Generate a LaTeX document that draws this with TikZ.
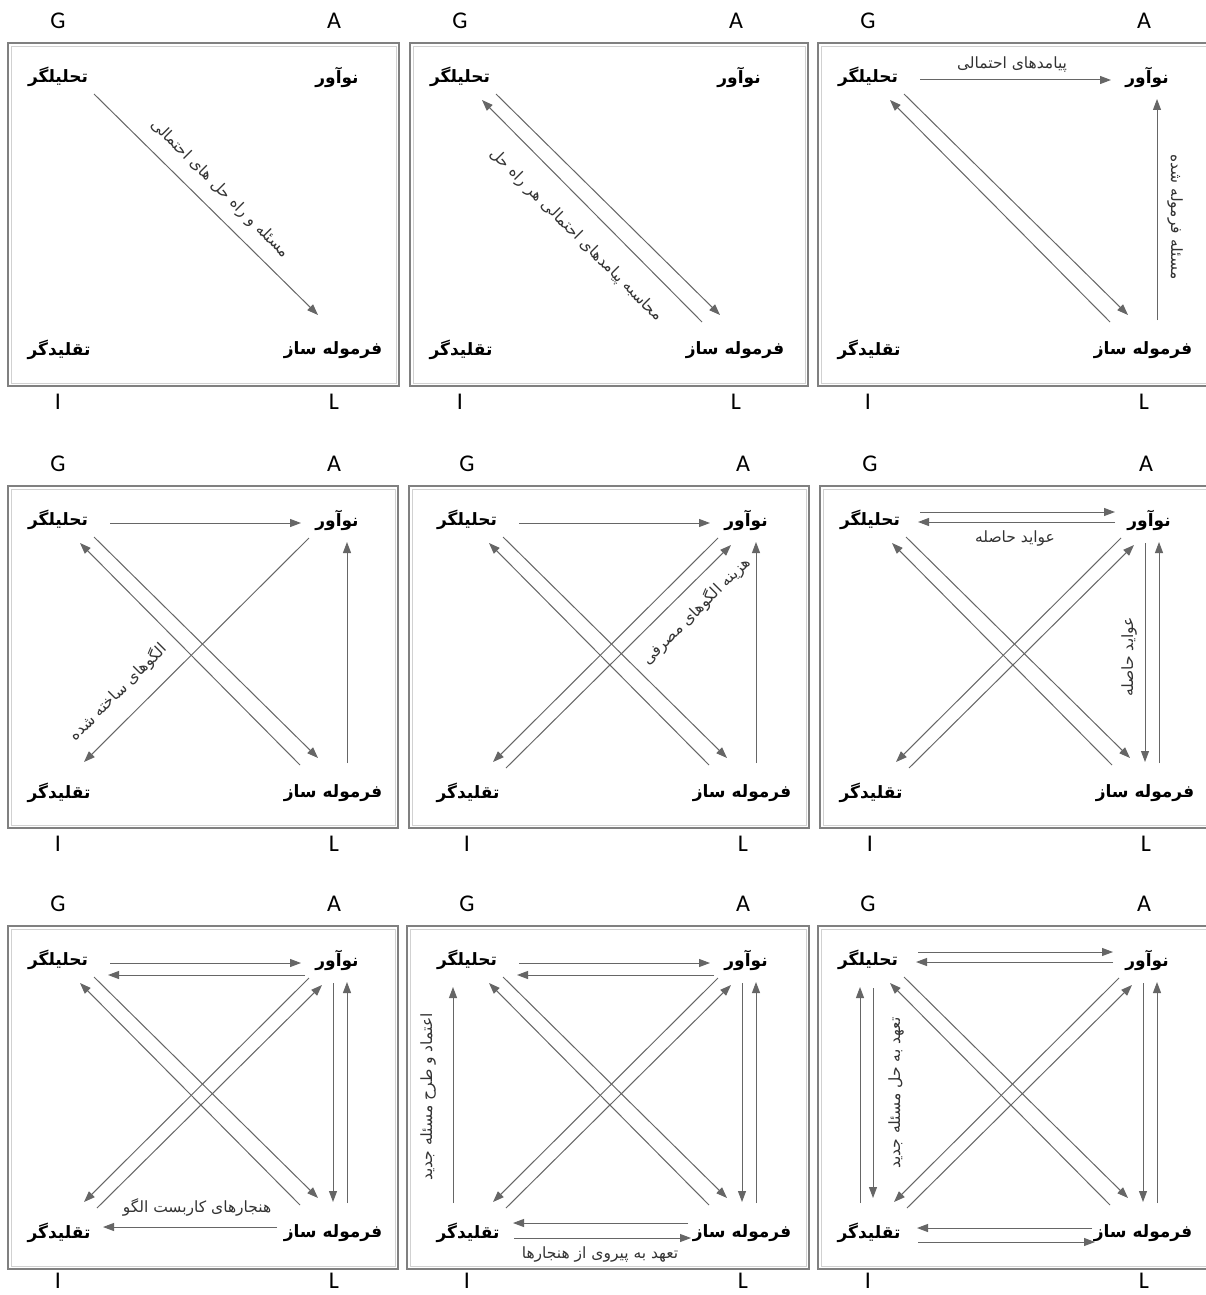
\documentclass[tikz,border=0pt]{standalone}
\usepackage{fontspec}
\usetikzlibrary{arrows.meta}
\TeXXeTstate=1
\newfontfamily\farsi[Script=Arabic]{DejaVu Sans}
\newfontfamily\latinf{Carlito}
\newcommand\fa[1]{\farsi\beginR #1\endR}
\definecolor{arrgray}{HTML}{666666}
\definecolor{boxgray}{HTML}{808080}
\definecolor{labgray}{HTML}{333333}
\tikzset{
  arr/.style={draw=arrgray, line width=1pt, -{Triangle[length=11pt,width=8pt]}},
  boxline/.style={draw=boxgray, line width=1.6pt},
  boxinner/.style={draw=black!18, line width=0.8pt},
  corner/.style={inner sep=0pt, font=\farsi\bfseries\fontsize{17}{19}\selectfont},
  axis/.style={inner sep=0pt, font=\latinf\fontsize{24}{26}\selectfont},
  lab/.style={inner sep=0pt, text=labgray, font=\farsi\fontsize{15.5}{17}\selectfont}
}
\newcommand\mypanel[6]{%
  \draw[boxline] (#2,#3) rectangle (#4,#5);
  \draw[boxinner] (#2+3,#3+3) rectangle (#4-3,#5-3);
  \begin{scope}[shift={(#6,#3)}]
    \node[corner] (#1tl) at (50,34) {\fa{تحلیلگر}};
    \node[corner] (#1tr) at (329,34) {\fa{نوآور}};
    \node[corner] (#1bl) at (51,307) {\fa{تقلیدگر}};
    \node[corner] (#1br) at (325,307) {\fa{فرموله ساز}};
    \node[axis] (#1g) at (50,-22) {G};
    \node[axis] (#1a) at (326,-22) {A};
    \node[axis] (#1i) at (50,{min(#5-#3+16,1281-#3)}) {I};
    \node[axis] (#1l) at (326,{min(#5-#3+16,1281-#3)}) {L};
  \end{scope}}
% standard connectors
\newcommand\arrDR[1]{\draw[arr] ([shift={(36,17)}]#1tl.center) -- ([shift={(-15,-35)}]#1br.center);}
\newcommand\arrUL[1]{\draw[arr] ([shift={(-33,-28)}]#1br.center) -- ([shift={(22,23)}]#1tl.center);}
\newcommand\arrDL[1]{\draw[arr] ([shift={(-28,18)}]#1tr.center) -- ([shift={(25,-31)}]#1bl.center);}
\newcommand\arrUR[1]{\draw[arr] ([shift={(38,-25)}]#1bl.center) -- ([shift={(-15,25)}]#1tr.center);}
\newcommand\arrTop[1]{\draw[arr] ([shift={(52,3)}]#1tl.center) -- ([shift={(-36,3)}]#1tr.center);}
\newcommand\arrRU[1]{\draw[arr] ([shift={(14,-30)}]#1br.center) -- ([shift={(10,22)}]#1tr.center);}
\newcommand\arrRD[1]{\draw[arr] ([shift={(-4,23)}]#1tr.center) -- ([shift={(0,-31)}]#1br.center);}
\begin{document}
\begin{tikzpicture}[x=1pt,y=-1pt]
\useasboundingbox (0,0) rectangle (1205,1295);
\fill[white] (0,0) rectangle (1205,1295);

\mypanel{p1}{8}{43}{399}{386}{8}
\mypanel{p2}{410}{43}{808}{386}{410}
\mypanel{p3}{818}{43}{1212}{386}{818}
\mypanel{p4}{8}{486}{398}{828}{8}
\mypanel{p5}{409}{486}{809}{828}{417}
\mypanel{p6}{820}{486}{1212}{828}{820}
\mypanel{p7}{8}{926}{398}{1269}{8}
\mypanel{p8}{407}{926}{809}{1269}{417}
\mypanel{p9}{818}{926}{1212}{1269}{818}

% panel 1
\arrDR{p1}
\node[lab, rotate=-45] (p1lab) at ([shift={(162,112)}]p1tl.center) {\fa{مسئله و راه حل های احتمالی}};

% panel 2
\arrDR{p2}
\arrUL{p2}
\node[lab, rotate=-45] (p2lab) at ([shift={(116,158)}]p2tl.center) {\fa{محاسبه پیامدهای احتمالی هر راه حل}};

% panel 3
\arrTop{p3}
\arrDR{p3}
\arrUL{p3}
\arrRU{p3}
\node[lab] (p3lab) at ([shift={(144,-12)}]p3tl.center) {\fa{پیامدهای احتمالی}};
\node[lab, rotate=-90] (p3lab2) at ([shift={(307,140)}]p3tl.center) {\fa{مسئله فرموله شده}};

% panel 4
\arrTop{p4}
\arrDR{p4}
\arrUL{p4}
\arrDL{p4}
\arrRU{p4}
\node[lab, rotate=45] (p4lab) at ([shift={(60,172)}]p4tl.center) {\fa{الگوهای ساخته شده}};

% panel 5
\arrTop{p5}
\arrDR{p5}
\arrUL{p5}
\arrDL{p5}
\arrUR{p5}
\arrRU{p5}
\node[lab, rotate=45] (p5lab) at ([shift={(229,91)}]p5tl.center) {\fa{هزینه الگوهای مصرفی}};

% panel 6
\draw[arr] ([shift={(50,-8)}]p6tl.center) -- ([shift={(-34,-8)}]p6tr.center);
\draw[arr] ([shift={(-34,2)}]p6tr.center) -- ([shift={(48,2)}]p6tl.center);
\arrDR{p6}
\arrUL{p6}
\arrDL{p6}
\arrUR{p6}
\arrRD{p6}
\arrRU{p6}
\node[lab] (p6lab) at ([shift={(145,18)}]p6tl.center) {\fa{عواید حاصله}};
\node[lab, rotate=90] (p6lab2) at ([shift={(259,137)}]p6tl.center) {\fa{عواید حاصله}};

% panel 7
\draw[arr] ([shift={(52,3)}]p7tl.center) -- ([shift={(-36,3)}]p7tr.center);
\draw[arr] ([shift={(-32,15)}]p7tr.center) -- ([shift={(50,15)}]p7tl.center);
\arrDR{p7}
\arrUL{p7}
\arrDL{p7}
\arrUR{p7}
\arrRD{p7}
\arrRU{p7}
\draw[arr] ([shift={(-56,-6)}]p7br.center) -- ([shift={(44,-6)}]p7bl.center);
\node[lab] (p7lab) at ([shift={(139,247)}]p7tl.center) {\fa{هنجارهای کاربست الگو}};

% panel 8
\draw[arr] ([shift={(52,3)}]p8tl.center) -- ([shift={(-36,3)}]p8tr.center);
\draw[arr] ([shift={(-32,15)}]p8tr.center) -- ([shift={(50,15)}]p8tl.center);
\arrDR{p8}
\arrUL{p8}
\arrDL{p8}
\arrUR{p8}
\arrRD{p8}
\arrRU{p8}
\draw[arr] ([shift={(-54,-10)}]p8br.center) -- ([shift={(45,-10)}]p8bl.center);
\draw[arr] ([shift={(46,5)}]p8bl.center) -- ([shift={(-51,5)}]p8br.center);
\draw[arr] ([shift={(-15,-30)}]p8bl.center) -- ([shift={(-14,27)}]p8tl.center);
\node[lab] (p8lab) at ([shift={(133,294)}]p8tl.center) {\fa{تعهد به پیروی از هنجارها}};
\node[lab, rotate=90] (p8lab2) at ([shift={(-39,137)}]p8tl.center) {\fa{اعتماد و طرح مسئله جدید}};

% panel 9
\draw[arr] ([shift={(50,-8)}]p9tl.center) -- ([shift={(-34,-8)}]p9tr.center);
\draw[arr] ([shift={(-34,2)}]p9tr.center) -- ([shift={(48,2)}]p9tl.center);
\arrDR{p9}
\arrUL{p9}
\arrDL{p9}
\arrUR{p9}
\arrRD{p9}
\arrRU{p9}
\draw[arr] ([shift={(-51,-5)}]p9br.center) -- ([shift={(48,-5)}]p9bl.center);
\draw[arr] ([shift={(49,9)}]p9bl.center) -- ([shift={(-48,9)}]p9br.center);
\draw[arr] ([shift={(-9,-30)}]p9bl.center) -- ([shift={(-8,27)}]p9tl.center);
\draw[arr] ([shift={(5,28)}]p9tl.center) -- ([shift={(4,-35)}]p9bl.center);
\node[lab, rotate=90] (p9lab) at ([shift={(28,133)}]p9tl.center) {\fa{تعهد به حل مسئله جدید}};
\end{tikzpicture}
\end{document}
